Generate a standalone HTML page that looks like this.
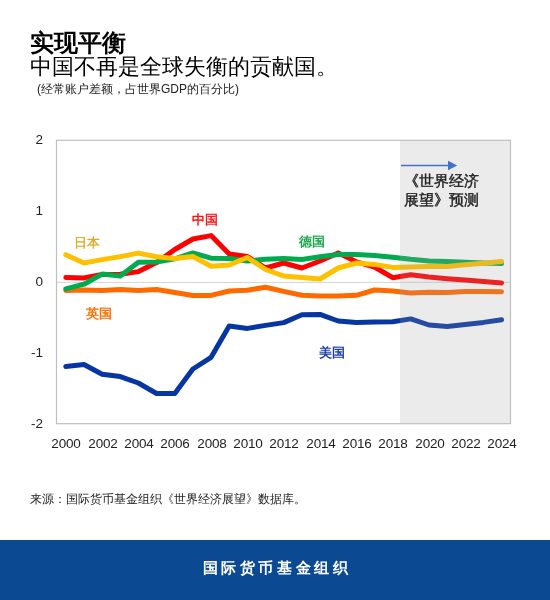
<!DOCTYPE html>
<html><head><meta charset="utf-8">
<style>
html,body{margin:0;padding:0;background:#fff;}
body{width:550px;height:600px;position:relative;overflow:hidden;font-family:"Liberation Sans",sans-serif;color:#000;}
.a{position:absolute;white-space:nowrap;will-change:transform;}
.t1{left:30px;top:25.5px;font-size:24px;font-weight:bold;line-height:34px;}
.t2{left:30px;top:52px;font-size:22px;line-height:30px;}
.t3{left:37px;top:80.5px;font-size:12px;line-height:16px;color:#222;}
.yl{position:absolute;will-change:transform;width:30px;left:13px;text-align:right;font-size:13.5px;line-height:16px;color:#222;}
.xl{position:absolute;will-change:transform;width:40px;top:436px;text-align:center;font-size:13.5px;line-height:16px;color:#222;letter-spacing:-0.15px;}
.lab{position:absolute;will-change:transform;white-space:nowrap;font-size:12.5px;font-weight:bold;line-height:16px;}
.src{left:30px;top:491.4px;font-size:12px;line-height:16px;color:#222;}
.foot{position:absolute;left:0;top:540px;width:550px;height:60px;background:#0B4A93;}
.ft{position:absolute;will-change:transform;left:1.5px;width:550px;top:559px;text-align:center;color:#fff;font-size:15px;font-weight:bold;letter-spacing:3.6px;line-height:18px;}
</style></head><body>
<div class="a t1">实现平衡</div>
<div class="a t2">中国不再是全球失衡的贡献国。</div>
<div class="a t3">(经常账户差额，占世界GDP的百分比)</div>
<svg class="a" style="left:0;top:0" width="550" height="600" viewBox="0 0 550 600">
<line x1="56" y1="282.4" x2="511" y2="282.4" stroke="#D4D4D4" stroke-width="1"/>
<polyline points="65.8,290.4 84.0,290.0 102.1,290.6 120.3,289.6 138.4,290.6 156.6,289.5 174.8,292.5 192.9,295.5 211.1,295.4 229.2,291.0 247.4,290.2 265.6,287.3 283.7,291.4 301.9,295.3 320.0,295.9 338.2,295.9 356.4,295.3 374.5,290.0 392.7,291.0 410.8,293.0 429.0,292.3 447.2,292.4 465.3,291.6 483.5,291.5 501.6,291.7" fill="none" stroke="#FF6A00" stroke-width="5" stroke-linejoin="round" stroke-linecap="round"/>
<polyline points="65.8,366.4 84.0,364.5 102.1,374.2 120.3,376.6 138.4,383.0 156.6,393.5 174.8,393.5 192.9,369.0 211.1,357.3 229.2,326.0 247.4,328.4 265.6,325.4 283.7,322.6 301.9,314.7 320.0,314.4 338.2,321.0 356.4,322.6 374.5,322.0 392.7,321.7 410.8,318.9 429.0,325.0 447.2,326.6 465.3,324.5 483.5,322.4 501.6,319.8" fill="none" stroke="#0636A2" stroke-width="5" stroke-linejoin="round" stroke-linecap="round"/>
<polyline points="65.8,277.5 84.0,277.9 102.1,274.4 120.3,274.2 138.4,271.6 156.6,262.6 174.8,249.5 192.9,239.0 211.1,235.6 229.2,254.0 247.4,256.5 265.6,268.0 283.7,263.0 301.9,268.0 320.0,261.0 338.2,253.0 356.4,261.8 374.5,267.0 392.7,277.7 410.8,274.8 429.0,277.0 447.2,278.7 465.3,280.0 483.5,281.6 501.6,282.9" fill="none" stroke="#FF0000" stroke-width="5" stroke-linejoin="round" stroke-linecap="round"/>
<polyline points="65.8,288.9 84.0,284.2 102.1,274.1 120.3,276.0 138.4,262.2 156.6,262.0 174.8,258.8 192.9,253.0 211.1,258.2 229.2,258.5 247.4,261.0 265.6,259.2 283.7,258.6 301.9,259.5 320.0,256.8 338.2,254.5 356.4,254.5 374.5,255.6 392.7,257.3 410.8,259.3 429.0,260.9 447.2,261.5 465.3,262.2 483.5,263.0 501.6,263.6" fill="none" stroke="#00AB50" stroke-width="5" stroke-linejoin="round" stroke-linecap="round"/>
<polyline points="65.8,254.7 84.0,263.0 102.1,259.6 120.3,256.6 138.4,253.1 156.6,256.7 174.8,258.5 192.9,256.5 211.1,266.3 229.2,265.0 247.4,257.5 265.6,269.5 283.7,276.0 301.9,277.5 320.0,279.0 338.2,268.0 356.4,263.0 374.5,264.4 392.7,267.4 410.8,267.0 429.0,266.6 447.2,266.4 465.3,264.8 483.5,263.3 501.6,261.6" fill="none" stroke="#FFC000" stroke-width="5" stroke-linejoin="round" stroke-linecap="round"/>

<rect x="400" y="140.5" width="110" height="283" fill="rgb(159,159,159)" fill-opacity="0.21"/>
<rect x="56.5" y="140.3" width="454" height="283.4" fill="none" stroke="#BFBFBF" stroke-width="1.2"/>
<line x1="401" y1="165.5" x2="449" y2="165.5" stroke="#4472C4" stroke-width="1.5"/>
<polygon points="448,160.8 457.2,165.5 448,170.2" fill="#4472C4"/>
</svg>
<div class="yl" style="top:132px">2</div>
<div class="yl" style="top:203px">1</div>
<div class="yl" style="top:274px">0</div>
<div class="yl" style="top:345px">-1</div>
<div class="yl" style="top:416px">-2</div>
<div class="xl" style="left:46.3px">2000</div><div class="xl" style="left:82.6px">2002</div><div class="xl" style="left:118.9px">2004</div><div class="xl" style="left:155.3px">2006</div><div class="xl" style="left:191.6px">2008</div><div class="xl" style="left:227.9px">2010</div><div class="xl" style="left:264.2px">2012</div><div class="xl" style="left:300.5px">2014</div><div class="xl" style="left:336.9px">2016</div><div class="xl" style="left:373.2px">2018</div><div class="xl" style="left:409.5px">2020</div><div class="xl" style="left:445.8px">2022</div><div class="xl" style="left:482.1px">2024</div>
<div class="lab" style="left:404px;top:172.2px;font-size:15px;line-height:18.5px;color:#222;font-weight:500;-webkit-text-stroke:0.4px #222;text-align:center">《世界经济<br>展望》预测</div>
<div class="lab" style="left:192px;top:212px;color:#FF0000;font-weight:500;-webkit-text-stroke:0.35px #FF0000">中国</div>
<div class="lab" style="left:74px;top:235px;color:#DCA514;font-weight:500;-webkit-text-stroke:0.3px #DCA514">日本</div>
<div class="lab" style="left:298.5px;top:234px;color:#1EA54F">德国</div>
<div class="lab" style="left:86px;top:306px;color:#FF7000">英国</div>
<div class="lab" style="left:319px;top:344.5px;color:#1F3FA8">美国</div>
<div class="a src">来源：国际货币基金组织《世界经济展望》数据库。</div>
<div class="foot"></div>
<div class="ft">国际货币基金组织</div>
</body></html>
